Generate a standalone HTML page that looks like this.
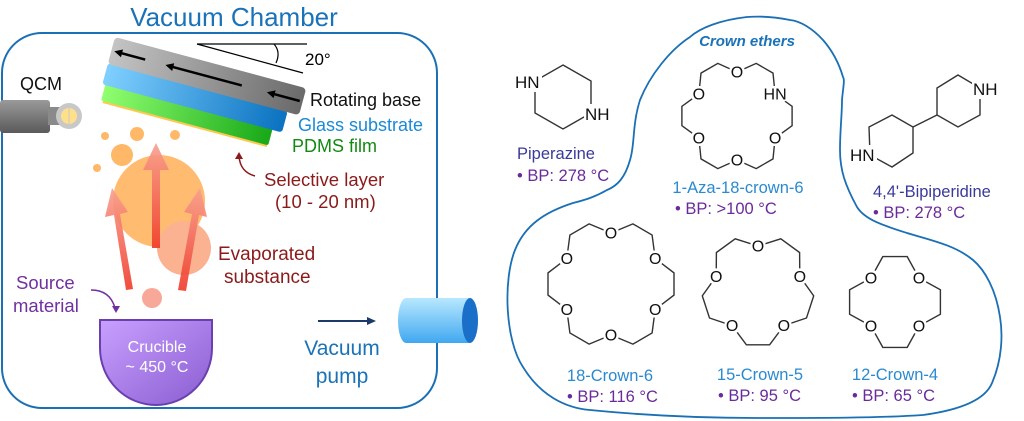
<!DOCTYPE html>
<html><head><meta charset="utf-8"><style>
html,body{margin:0;padding:0;background:#fff;}
svg{display:block;font-family:"Liberation Sans",Arial,sans-serif;}
</style></head><body>
<svg id="s" width="1024" height="421" viewBox="0 0 1024 421" xmlns="http://www.w3.org/2000/svg">
<defs>
<linearGradient id="gGray" x1="0" x2="1"><stop offset="0" stop-color="#c4c4c4"/><stop offset="1" stop-color="#6a6a6a"/></linearGradient>
<linearGradient id="gBlue" x1="0" x2="1"><stop offset="0" stop-color="#80d0ff"/><stop offset="1" stop-color="#0a72c0"/></linearGradient>
<linearGradient id="gGreen" x1="0" x2="1"><stop offset="0" stop-color="#90ff70"/><stop offset="1" stop-color="#18a818"/></linearGradient>
<linearGradient id="gCru" x1="0" y1="0" x2="1" y2="1"><stop offset="0" stop-color="#c8a0ff"/><stop offset="1" stop-color="#8a5cd0"/></linearGradient>
<linearGradient id="gArr" x1="0" y1="1" x2="0" y2="0"><stop offset="0" stop-color="#f03a2a"/><stop offset="1" stop-color="#f8a090"/></linearGradient>
<linearGradient id="gCyl" x1="0" y1="0" x2="0" y2="1"><stop offset="0" stop-color="#b8e8ff"/><stop offset="1" stop-color="#40a8f0"/></linearGradient>
<linearGradient id="gQ" x1="0" y1="0" x2="0" y2="1"><stop offset="0" stop-color="#9a9a9a"/><stop offset="1" stop-color="#5a5a5a"/></linearGradient>
</defs>

<text x="234" y="26" font-size="26" fill="#1a72b8" text-anchor="middle">Vacuum Chamber</text>
<rect x="2" y="33" width="435" height="375" rx="40" fill="none" stroke="#1a6fb5" stroke-width="2"/>

<line x1="197" y1="44" x2="307" y2="44" stroke="#000" stroke-width="1.2"/>
<line x1="197" y1="44" x2="303" y2="73" stroke="#000" stroke-width="1.2"/>
<path d="M274,44 Q281,52 276,63" fill="none" stroke="#000" stroke-width="1.2"/>
<text x="305" y="65" font-size="17">20°</text>

<g transform="rotate(15 115 37)">
<rect x="120" y="100" width="170" height="4" fill="#ffc850"/>
<rect x="118" y="85" width="173" height="17" rx="2" fill="url(#gGreen)"/>
<rect x="115" y="64" width="186" height="22" rx="3" fill="url(#gBlue)"/>
<rect x="115" y="37" width="198" height="28" rx="4" fill="url(#gGray)"/>
<g stroke="#000" stroke-width="2.5">
<line x1="122" y1="51" x2="150" y2="51"/><line x1="175" y1="51" x2="250" y2="51"/><line x1="280" y1="51" x2="310" y2="51"/>
</g>
<g fill="#000"><path d="M118,51 l8,-4 v8z"/><path d="M171,51 l8,-4 v8z"/><path d="M276,51 l8,-4 v8z"/></g>
</g>

<text x="310" y="106" font-size="18" fill="#111">Rotating base</text>
<text x="298" y="131" font-size="18" fill="#1a8ad8">Glass substrate</text>
<text x="292" y="152" font-size="18" fill="#128a12">PDMS film</text>

<text x="20" y="90" font-size="18" fill="#111">QCM</text>
<rect x="0" y="100" width="50" height="33" rx="3" fill="url(#gQ)"/>
<rect x="48" y="107" width="12" height="18" fill="#8a8a8a"/>
<circle cx="69" cy="116" r="13" fill="#c8c8c8"/>
<circle cx="69" cy="116" r="8" fill="#ffe08a"/>
<line x1="69" y1="104" x2="69" y2="128" stroke="#c8c8c8" stroke-width="1"/>

<g fill="#ffb868">
<circle cx="105" cy="136" r="4"/><circle cx="137" cy="134" r="7"/><circle cx="175" cy="135" r="5"/>
<circle cx="122" cy="155" r="11"/><circle cx="97" cy="168" r="4"/>
<circle cx="159" cy="201" r="46" opacity="0.95"/>
</g>
<circle cx="184" cy="248" r="27" fill="#fbb290"/>
<circle cx="152" cy="298" r="10" fill="#f8a898"/>

<g fill="url(#gArr)" opacity="0.9">
<path d="M152,248 V170 H143 L156,143 L169,170 H160 V248 Z" />
<path d="M126,290 L114,215 L105,217 L112,188 L128,212 L120,214 L133,289 Z"/>
<path d="M178,290 L192,214 L184,212 L200,188 L207,217 L199,215 L186,291 Z"/>
</g>

<g fill="#8b1a1a" font-size="18.5">
<text x="264" y="186">Selective layer</text>
<text x="275" y="208">(10 - 20 nm)</text>
<text x="218" y="260" font-size="19">Evaporated</text>
<text x="224" y="283" font-size="19">substance</text>
</g>
<path d="M255,176 Q240,172 239,156" fill="none" stroke="#8b1a1a" stroke-width="1.5"/>
<path d="M239,152 l-4,7 h8z" fill="#8b1a1a"/>

<g fill="#7030a0" font-size="18.5">
<text x="16" y="289">Source</text>
<text x="13" y="312">material</text>
</g>
<path d="M91,290 Q110,290 115,308" fill="none" stroke="#7030a0" stroke-width="1.5"/>
<path d="M116,313 l-4,-7 h8z" fill="#7030a0"/>

<path d="M100,320 H212 V348 A56,57 0 0 1 100,348 Z" fill="url(#gCru)" stroke="#6a3fb0" stroke-width="2"/>
<text x="157" y="352" font-size="16" fill="#fff" text-anchor="middle">Crucible</text>
<text x="157" y="372" font-size="16" fill="#fff" text-anchor="middle">~ 450 °C</text>

<line x1="318" y1="321" x2="368" y2="321" stroke="#1a3a6a" stroke-width="2"/>
<path d="M376,321 l-9,-4 v8z" fill="#1a3a6a"/>
<text x="342" y="355" font-size="21" fill="#1a72b8" text-anchor="middle">Vacuum</text>
<text x="342" y="383" font-size="21" fill="#1a72b8" text-anchor="middle">pump</text>
<path d="M406,298 H470 V343 H406 A8,22.5 0 0 1 406,298 Z" fill="url(#gCyl)"/>
<ellipse cx="470" cy="320.5" rx="8" ry="22.5" fill="#1a6fc8"/>

<path d="M747,17 C720,20 700,28 690,37 C670,50 650,75 640,100 C632,125 635,145 630,160 C625,178 617,186 607,190 C595,197 585,200 573,203 C545,212 525,225 515,250 C503,280 505,340 523,367 C540,395 565,408 590,410 C640,415 700,418 757,418 C820,418 880,418 923,415 C960,410 985,400 992,383 C1002,360 1003,335 1000,317 C996,290 985,270 973,260 C955,245 930,240 907,233 C885,226 865,220 857,207 C845,185 840,170 840,150 C840,130 842,115 842,100 C843,88 845,80 843,77 C838,60 830,48 823,40 C812,28 800,21 790,20 C775,17 760,16 747,17 Z" fill="none" stroke="#1a6fb5" stroke-width="1.8"/>
<text x="747" y="46" font-size="15" font-weight="bold" font-style="italic" fill="#1a72b8" text-anchor="middle">Crown ethers</text>

<g id="mol" stroke="#333" stroke-width="1.4" fill="none"></g>
<g id="bg" fill="#fff"></g>
<g id="lbl" font-size="16" fill="#111" text-anchor="middle"></g>

<polygon points="563,65 591,81 591,113 563,129 535,113 535,81" fill="none" stroke="#333" stroke-width="1.4"/>
<rect x="514" y="72" width="28" height="20" fill="#fff"/>
<rect x="584" y="104" width="28" height="20" fill="#fff"/>
<g font-size="17" fill="#111">
<text x="515" y="88">HN</text>
<text x="585" y="120">NH</text>
</g>
<text x="517" y="159" font-size="16.5" fill="#3a3a9a">Piperazine</text>
<text x="517" y="181" font-size="16.5" fill="#6a2a9a">•  BP: 278 °C</text>

<g stroke="#333" stroke-width="1.4" fill="none">
<polygon points="958,75 980,88 980,115 958,127 937,115 937,88"/>
<polygon points="892,115 913,127 913,153 892,167 870,155 869,127"/>
<line x1="913" y1="127" x2="937" y2="115"/>
</g>
<rect x="972" y="79" width="28" height="20" fill="#fff"/>
<rect x="849" y="145" width="28" height="20" fill="#fff"/>
<g font-size="17" fill="#111">
<text x="973" y="95">NH</text>
<text x="850" y="161">HN</text>
</g>
<text x="873" y="197" font-size="16.5" fill="#3a3a9a">4,4'-Bipiperidine</text>
<text x="873" y="218" font-size="16.5" fill="#6a2a9a">•  BP: 278 °C</text>

<g font-size="16.5">
<text x="738" y="193" fill="#2a8ad0" text-anchor="middle">1-Aza-18-crown-6</text>
<text x="675" y="214" fill="#6a2a9a">•  BP: &gt;100 °C</text>
<text x="610" y="381" fill="#2a8ad0" text-anchor="middle">18-Crown-6</text>
<text x="567" y="402" fill="#6a2a9a">•  BP: 116 °C</text>
<text x="760" y="380" fill="#2a8ad0" text-anchor="middle">15-Crown-5</text>
<text x="718" y="401" fill="#6a2a9a">•  BP: 95 °C</text>
<text x="895" y="380" fill="#2a8ad0" text-anchor="middle">12-Crown-4</text>
<text x="852" y="401" fill="#6a2a9a">•  BP: 65 °C</text>
</g>
</svg>
<script>
(function(){
var NS="http://www.w3.org/2000/svg";
var mol=document.getElementById('mol'), lbl=document.getElementById('lbl'), bg=document.getElementById('bg');
function crown(cx,cy,n,ro,rc,start,labels){
  var pts=[],atoms=[];
  var d=360/n;
  for(var j=0;j<n;j++){
    var a=start+d*j;
    var t=[a,a+d/3,a+2*d/3], r=[ro,rc,rc];
    for(var k=0;k<3;k++){
      var rad=t[k]*Math.PI/180;
      pts.push([cx+r[k]*Math.cos(rad),cy+r[k]*Math.sin(rad)]);
      if(k==0) atoms.push(pts[pts.length-1]);
    }
  }
  var p=document.createElementNS(NS,'polygon');
  p.setAttribute('points',pts.map(function(q){return q[0].toFixed(1)+','+q[1].toFixed(1)}).join(' '));
  mol.appendChild(p);
  atoms.forEach(function(q,i){
    var s=labels?labels[i]:'O';
    var w=s.length>1?13:7.5;
    var rc2=document.createElementNS(NS,'rect');
    rc2.setAttribute('x',(q[0]-w).toFixed(1));rc2.setAttribute('y',(q[1]-8).toFixed(1));
    rc2.setAttribute('width',(2*w).toFixed(1));rc2.setAttribute('height','16');rc2.setAttribute('rx','6');
    bg.appendChild(rc2);
    var t=document.createElementNS(NS,'text');
    t.setAttribute('x',q[0].toFixed(1));t.setAttribute('y',(q[1]+5.5).toFixed(1));
    t.textContent=s;
    lbl.appendChild(t);
  });
}
crown(737,116,6,44,56,-90,['O','HN','O','O','O','O']);
crown(611,284,6,51,64,-90);
crown(758,290,5,44,56,-90);
crown(895,302,4,34,47,-135);
})();
</script>
</body></html>
